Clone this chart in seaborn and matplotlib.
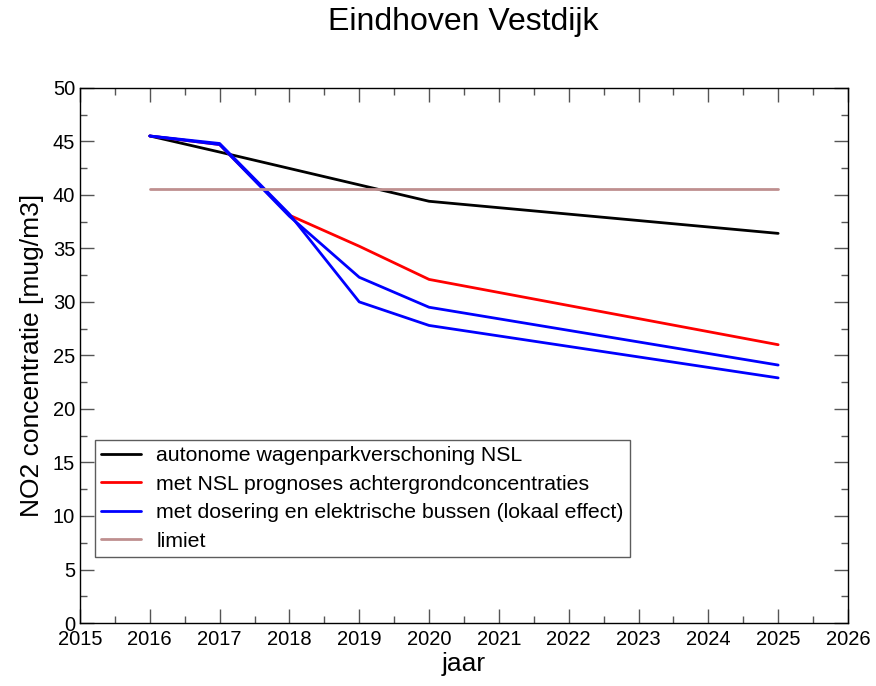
import pandas as pd
import matplotlib.pyplot as plt
import seaborn as sns
from matplotlib.ticker import MultipleLocator

jaren_basis = [2016, 2017, 2020, 2025]
basis = [45.5, 44.0, 39.4, 36.4]

jaren = [2016, 2017, 2018, 2019, 2020, 2025]
nsl = [45.5, 44.7, 38.1, 35.2, 32.1, 26.0]
bussen_a = [45.5, 44.7, 38.0, 32.3, 29.5, 24.1]
bussen_b = [45.5, 44.8, 38.2, 30.0, 27.8, 22.9]

jaren_limiet = [2016, 2025]
limiet = [40.5, 40.5]

labels = [
    'autonome wagenparkverschoning NSL',
    'met NSL prognoses achtergrondconcentraties',
    'met dosering en elektrische bussen (lokaal effect)',
    'limiet',
]
kleuren = ['#000000', '#ff0000', '#0000ff', '#bf8f8f']

rows = []
for x, y in zip(jaren_basis, basis):
    rows.append((x, y, labels[0], 'a'))
for x, y in zip(jaren, nsl):
    rows.append((x, y, labels[1], 'b'))
for x, y in zip(jaren, bussen_a):
    rows.append((x, y, labels[2], 'c'))
for x, y in zip(jaren, bussen_b):
    rows.append((x, y, labels[2], 'd'))
for x, y in zip(jaren_limiet, limiet):
    rows.append((x, y, labels[3], 'e'))
df = pd.DataFrame(rows, columns=['jaar', 'no2', 'scenario', 'run'])

sns.set_style('white')
plt.rcParams['font.family'] = ['Liberation Sans', 'DejaVu Sans']
plt.rcParams['text.color'] = 'black'
plt.rcParams['axes.labelcolor'] = 'black'

fig = plt.figure(figsize=(8.76, 6.86), dpi=100)
ax = fig.add_axes([0.0913, 0.0918, 0.8767, 0.7802])

sns.lineplot(data=df, x='jaar', y='no2', hue='scenario', units='run',
             estimator=None, hue_order=labels,
             palette=dict(zip(labels, kleuren)), linewidth=2.0, ax=ax)

ax.set_xlim(2015, 2026)
ax.set_ylim(0, 50)
ax.xaxis.set_major_locator(MultipleLocator(1))
ax.xaxis.set_minor_locator(MultipleLocator(0.5))
ax.yaxis.set_major_locator(MultipleLocator(5))
ax.yaxis.set_minor_locator(MultipleLocator(2.5))
ax.tick_params(which='both', direction='in', top=True, right=True,
               bottom=True, left=True, color='#555555',
               labelcolor='black', labelsize=14.5)
ax.tick_params(which='major', length=10, width=1)
ax.tick_params(which='minor', length=5, width=1)
ax.tick_params(axis='x', pad=5)
for s in ax.spines.values():
    s.set_color('black')
    s.set_linewidth(1)

ax.set_xlabel('jaar', fontsize=19, labelpad=2)
ax.set_ylabel('NO2 concentratie [mug/m3]', fontsize=19, labelpad=6)
fig.suptitle('Eindhoven Vestdijk', fontsize=23, x=0.529, y=0.99)

leg = ax.legend(loc='lower left', bbox_to_anchor=(0.019, 0.123), fontsize=15.3,
                frameon=True, fancybox=False, handlelength=1.9,
                handletextpad=0.7, borderpad=0.3, labelspacing=0.45,
                borderaxespad=0)
leg.get_frame().set_edgecolor('#333333')
leg.get_frame().set_linewidth(1)

plt.savefig('out.png', dpi=100)
